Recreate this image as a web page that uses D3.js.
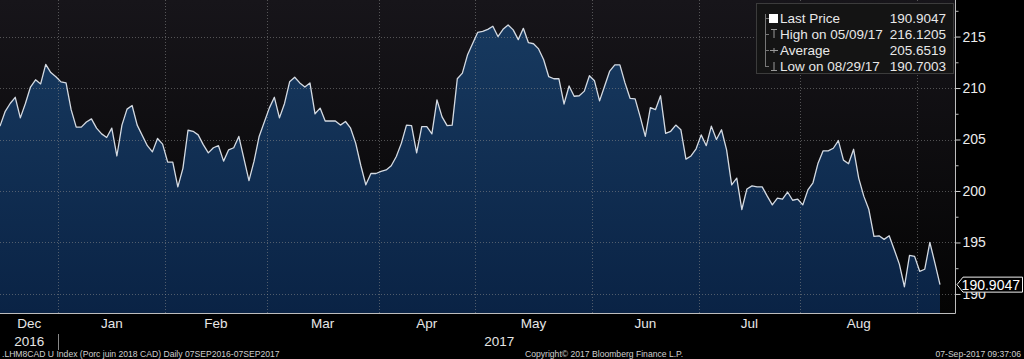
<!DOCTYPE html>
<html><head><meta charset="utf-8">
<script src="https://cdn.jsdelivr.net/npm/d3@7"></script>
<style>html,body{margin:0;padding:0;background:#000;}svg{display:block;}</style>
</head><body>
<svg id="c" width="1024" height="359"></svg>
<script>
// Trading-day index (from start of visible window) and price
const days = [0,1,2,3,4,5,6,7,8,9,10,11,12,13,14,15,16,17,18,19,20,21,22,23,24,25,26,27,29,30,31,32,33,34,35,36,37,38,39,40,41,42,43,44,45,46,47,49,50,51,53,54,55,56,57,58,59,60,61,62,63,64,66,67,68,69,70,71,72,73,74,75,76,77,78,79,80,81,82,83,84,85,86,87,88,89,90,91,92,94,95,96,97,98,99,100,101,102,103,104,105,106,107,108,109,110,111,112,113,114,115,116,117,118,119,120,121,122,123,124,125,126,127,128,129,130,131,132,133,134,135,136,137,138,139,140,141,142,143,144,145,146,147,148,149,150,151,152,153,154,155,156,157,158,159,160,161,162,163,164,165,166,167,168,169,170,171,172,173,174,175,176,177,178,179,180,181,182,183,184,185];
const values = [206.3,207.7,208.5,209.1,207.1,208.5,210.1,210.8,210.4,212.3,211.5,211.1,210.6,210.5,207.9,206.2,206.2,206.7,207.0,206.1,205.55,205.2,206.1,203.4,206.4,207.95,208.3,206.4,204.4,203.8,205.1,204.55,202.8,202.8,200.4,202.2,205.9,205.8,205.45,204.5,203.7,204.2,204.4,202.9,204.0,204.2,205.3,201.0,202.9,205.3,208.05,209.1,207.1,208.5,210.6,211.05,210.5,210.1,210.5,207.5,208.05,206.8,206.8,206.4,206.75,206.1,204.65,202.5,200.6,201.7,201.7,201.9,202.05,202.45,203.35,204.65,206.4,206.35,203.7,206.25,206.25,205.55,208.85,207.2,206.35,206.4,210.9,211.45,213.2,215.4,215.5,215.7,216.0,215.0,215.7,216.1205,215.65,214.7,215.8,214.4,214.3,213.8,212.75,211.1,210.9,210.9,208.45,210.2,209.2,209.25,209.7,211.2,210.7,208.75,210.2,211.65,212.25,212.25,210.5,209.0,208.95,207.2,205.3,208.1,207.9,209.25,205.6,205.8,206.4,205.95,203.1,203.4,204.1,205.45,204.4,206.3,205.0,205.95,204.0,200.6,201.25,198.2,200.2,200.5,200.4,200.4,199.5,198.65,199.3,199.2,199.9,199.1,199.2,198.65,200.1,200.8,202.7,203.9,203.9,204.15,204.9,203.0,202.65,204.05,201.25,199.5,198.2,195.6,195.65,195.3,195.65,194.3,192.9,190.7003,193.75,193.65,192.2,192.4,195.0,193.0,190.9047];

const monthLabels = ["Dec","Jan","Feb","Mar","Apr","May","Jun","Jul","Aug"];
const monthBounds = [11.5,32.5,52.5,74.5,93.5,116.5,137.5,157.5,180.5]; // first-day boundaries Jan..Sep
const yearLabels = ["2016","2017"];
const yTicks = [190,195,200,205,210,215];
const yMinor = [187.5,192.5,197.5,202.5,207.5,212.5,217.5];
const legendNames = ["Last Price","High on 05/09/17","Average","Low on 08/29/17"];
const legendValues = ["190.9047","216.1205","205.6519","190.7003"];
const lastPrice = 190.9047;

const svg = d3.select("#c");
const W = 955, H = 313;
const x = d3.scaleLinear().domain([0,185]).range([0,940]);
const y = d3.scaleLinear().domain([188.15,218.55]).range([H,0]);
const data = days.map((d,i)=>({d, v: values[i]}));

const defs = svg.append("defs");
const bg = defs.append("linearGradient").attr("id","bg").attr("x1",0).attr("y1",0).attr("x2",0).attr("y2",1);
bg.append("stop").attr("offset","0%").attr("stop-color","#17151a");
bg.append("stop").attr("offset","100%").attr("stop-color","#040404");
const fg = defs.append("linearGradient").attr("id","fg").attr("gradientUnits","userSpaceOnUse")
  .attr("x1",0).attr("y1",25).attr("x2",0).attr("y2",H);
fg.append("stop").attr("offset","0%").attr("stop-color","#17395f");
fg.append("stop").attr("offset","100%").attr("stop-color","#0a2345");

svg.append("rect").attr("width",1024).attr("height",359).attr("fill","#000");
svg.append("rect").attr("x",0).attr("y",0).attr("width",W).attr("height",H).attr("fill","url(#bg)");

// area + line
svg.append("path").datum(data)
  .attr("d", d3.area().x(p=>x(p.d)).y0(H).y1(p=>y(p.v)))
  .attr("fill","url(#fg)");

// grid
const grid = svg.append("g").attr("stroke","#8a8a8a").attr("stroke-opacity",0.55).attr("stroke-dasharray","1,2").attr("stroke-width",1);
yTicks.forEach(t=>grid.append("line").attr("x1",0).attr("x2",W).attr("y1",Math.round(y(t))+0.5).attr("y2",Math.round(y(t))+0.5));
monthBounds.forEach(b=>grid.append("line").attr("x1",Math.round(x(b))+0.5).attr("x2",Math.round(x(b))+0.5).attr("y1",0).attr("y2",H));

svg.append("path").datum(data)
  .attr("d", d3.line().x(p=>x(p.d)).y(p=>y(p.v)))
  .attr("fill","none").attr("stroke","#d4dae2").attr("stroke-width",1.3).attr("stroke-linejoin","round");

// frame
svg.append("line").attr("x1",0).attr("x2",W+0.5).attr("y1",H+0.5).attr("y2",H+0.5).attr("stroke","#bdbdbd");
svg.append("line").attr("x1",W+0.5).attr("x2",W+0.5).attr("y1",0).attr("y2",H+0.5).attr("stroke","#bdbdbd");

// y axis
const yAxis = svg.append("g").attr("transform",`translate(${W+0.5},0)`)
  .call(d3.axisRight(y).tickValues(yTicks).tickSize(5).tickPadding(2).tickFormat(d3.format("d")));
yAxis.select(".domain").remove();
yAxis.selectAll("line").attr("stroke","#d0d0d0");
yAxis.selectAll("text").attr("fill","#ececec").style("font-family","'Liberation Sans', Arial, sans-serif").style("font-size","14px");
const yAxisMinor = svg.append("g").attr("transform",`translate(${W+0.5},0)`)
  .call(d3.axisRight(y).tickValues(yMinor.filter(v=>y(v)>2 && y(v)<H)).tickSize(3).tickFormat(""));
yAxisMinor.select(".domain").remove();
yAxisMinor.selectAll("line").attr("stroke","#bbbbbb");

// last price tag
const ty = y(lastPrice);
svg.append("path")
  .attr("d",`M${W+2},${ty} L${W+8},${ty-7.5} L1022.5,${ty-7.5} L1022.5,${ty+7.5} L${W+8},${ty+7.5} Z`)
  .attr("fill","#000").attr("stroke","#f0f0f0").attr("stroke-width",1);
svg.append("text").attr("x",1020).attr("y",ty+5).attr("text-anchor","end")
  .attr("fill","#ffffff").style("font-family","'Liberation Sans', Arial, sans-serif").style("font-size","14px")
  .text(d3.format(".4f")(lastPrice));

// x axis labels
const font = "'Liberation Sans', Arial, sans-serif";
const bounds = [0, ...monthBounds];
monthLabels.forEach((m,i)=>{
  const cx = (x(bounds[i]) + x(bounds[i+1]))/2;
  svg.append("text").attr("x",cx).attr("y",328).attr("text-anchor","middle")
    .attr("fill","#e6e6e6").style("font-family",font).style("font-size","13.5px").text(m);
});
svg.append("text").attr("x",(x(0)+x(monthBounds[0]))/2).attr("y",346).attr("text-anchor","middle")
  .attr("fill","#e6e6e6").style("font-family",font).style("font-size","13.5px").text(yearLabels[0]);
svg.append("text").attr("x",(x(monthBounds[0])+x(185))/2).attr("y",346).attr("text-anchor","middle")
  .attr("fill","#e6e6e6").style("font-family",font).style("font-size","13.5px").text(yearLabels[1]);
svg.append("line").attr("x1",Math.round(x(monthBounds[0]))+0.5).attr("x2",Math.round(x(monthBounds[0]))+0.5)
  .attr("y1",334).attr("y2",350).attr("stroke","#888");

// footer
const foot = (t,xx,anchor)=>svg.append("text").attr("x",xx).attr("y",357).attr("text-anchor",anchor)
  .attr("fill","#cfcfcf").style("font-family",font).style("font-size","8.6px").text(t);
foot(".LHM8CAD U Index (Porc juin 2018 CAD)  Daily 07SEP2016-07SEP2017",2,"start");
foot("Copyright\u00A9 2017 Bloomberg Finance L.P.",525,"start");
foot("07-Sep-2017 09:37:06",1021,"end");

// legend
const lg = svg.append("g");
lg.append("rect").attr("x",756.5).attr("y",3.5).attr("width",197).attr("height",70)
  .attr("fill","#141414").attr("stroke","#3c3c3c");
const rowY = [18,34,50,66];
lg.append("line").attr("x1",765.5).attr("x2",765.5).attr("y1",14).attr("y2",67).attr("stroke","#777");
rowY.forEach((ry,i)=>{
  lg.append("line").attr("x1",765.5).attr("x2",769).attr("y1",ry+0.5).attr("y2",ry+0.5).attr("stroke","#777");
  lg.append("text").attr("x",780).attr("y",ry+5).attr("fill","#e8e8e8").style("font-family",font).style("font-size","13.5px").text(legendNames[i]);
  lg.append("text").attr("x",946).attr("y",ry+5).attr("text-anchor","end").attr("fill","#e8e8e8").style("font-family",font).style("font-size","13.5px").text(legendValues[i]);
});
lg.append("rect").attr("x",769).attr("y",rowY[0]-4).attr("width",9).attr("height",9).attr("fill","#fff");
// high icon (T)
lg.append("path").attr("d",`M771,${rowY[1]-4.5} H777 M774,${rowY[1]-4.5} V${rowY[1]+4}`).attr("stroke","#999").attr("fill","none");
// average icon
lg.append("path").attr("d",`M770,${rowY[2]+0.5} H778 M774,${rowY[2]-2} V${rowY[2]+3}`).attr("stroke","#999").attr("fill","none");
// low icon
lg.append("path").attr("d",`M774,${rowY[3]-4} V${rowY[3]+4.5} M771,${rowY[3]+4.5} H777`).attr("stroke","#999").attr("fill","none");
</script>
</body></html>
